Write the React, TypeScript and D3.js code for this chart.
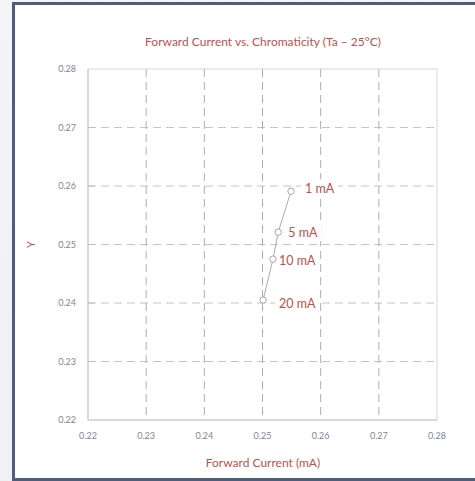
import React from "react";
import * as d3 from "d3";

const xTicks = [0.22, 0.23, 0.24, 0.25, 0.26, 0.27, 0.28];
const yTicks = [0.22, 0.23, 0.24, 0.25, 0.26, 0.27, 0.28];
const currents = ["1 mA", "5 mA", "10 mA", "20 mA"];
const xValues = [0.2549, 0.2527, 0.2518, 0.2501];
const yValues = [0.2591, 0.2521, 0.2475, 0.2405];

const labelOffsets = [
  [14, -3],
  [10, 0],
  [6, 1],
  [16, 3],
];

export default function App() {
  const W = 475, H = 481;
  const L = 88, R = 437, T = 69, B = 420;
  const x = d3.scaleLinear().domain([0.22, 0.28]).range([L, R]);
  const y = d3.scaleLinear().domain([0.22, 0.28]).range([B, T]);
  const font = "Lato, 'Open Sans', sans-serif";
  const red = "#c0504d";
  const tickColor = "#7a8699";
  const pts = currents.map((c, i) => ({ c, x: xValues[i], y: yValues[i] }));
  const line = d3.line<any>().x((d) => x(d.x)).y((d) => y(d.y));

  return (
    <svg width={W} height={H} style={{ position: "absolute", left: 0, top: 0 }}>
      <defs>
        <linearGradient id="bg" x1="0" x2="0" y1="0" y2="1">
          <stop offset="0" stopColor="#f3f5f8" />
          <stop offset="1" stopColor="#eef0f4" />
        </linearGradient>
      </defs>
      <rect x={0} y={0} width={W} height={H} fill="url(#bg)" />
      <rect x={13.5} y={3.5} width={W + 10} height={476} fill="#fff" stroke="#4f5d7a" strokeWidth={3} />
      <text x={263} y={46} textAnchor="middle" fontFamily={font} fontSize={12} fill={red}>
        Forward Current vs. Chromaticity (Ta – 25°C)
      </text>
      {yTicks.slice(1, -1).map((t) => (
        <line key={"h" + t} x1={L} x2={R} y1={y(t)} y2={y(t)} stroke="#c4c4c4" strokeWidth={1} strokeDasharray="8,5" />
      ))}
      {xTicks.slice(1, -1).map((t) => (
        <line key={"v" + t} x1={x(t)} x2={x(t)} y1={T} y2={B} stroke="#adadad" strokeWidth={1} strokeDasharray="8,5" />
      ))}
      <rect x={L} y={T} width={R - L} height={B - T} fill="none" stroke="#d8d8d8" strokeWidth={1} />
      <line x1={L} x2={L} y1={T} y2={B} stroke="#c8c8c8" />
      <line x1={L} x2={R} y1={B} y2={B} stroke="#c8c8c8" />
      {yTicks.map((t) => (
        <text key={"yt" + t} x={L - 12} y={y(t) + 3} textAnchor="end" fontFamily={font} fontSize={9} fill={tickColor}>
          {t.toFixed(2)}
        </text>
      ))}
      {yTicks.slice(1, -1).map((t) => (
        <line key={"ytk" + t} x1={L} x2={L + 6} y1={y(t)} y2={y(t)} stroke="#bbb" />
      ))}
      {xTicks.map((t) => (
        <text key={"xt" + t} x={x(t)} y={B + 19} textAnchor="middle" fontFamily={font} fontSize={9} fill={tickColor}>
          {t.toFixed(2)}
        </text>
      ))}
      <text x={263} y={467} textAnchor="middle" fontFamily={font} fontSize={12} fill={red}>
        Forward Current (mA)
      </text>
      <text transform={`translate(35,${y(0.25)}) rotate(-90)`} textAnchor="middle" fontFamily={font} fontSize={11} fill={red}>
        Y
      </text>
      <path d={line(pts) || ""} fill="none" stroke="#aaaaaa" strokeWidth={1} />
      {pts.map((p, i) => {
        const lx = x(p.x) + labelOffsets[i][0];
        const ly = y(p.y) + labelOffsets[i][1];
        const w = p.c.length * 7.2 + 8;
        return (
          <g key={"lb" + i}>
            <rect x={lx - 4} y={ly - 9} width={w} height={18} fill="#fff" />
            <text x={lx} y={ly + 4.5} fontFamily={font} fontSize={12.5} fill={red}>
              {p.c}
            </text>
          </g>
        );
      })}
      {pts.map((p, i) => (
        <circle key={"c" + i} cx={x(p.x)} cy={y(p.y)} r={3.2} fill="#fff" stroke="#a8a8a8" strokeWidth={1} />
      ))}
    </svg>
  );
}
